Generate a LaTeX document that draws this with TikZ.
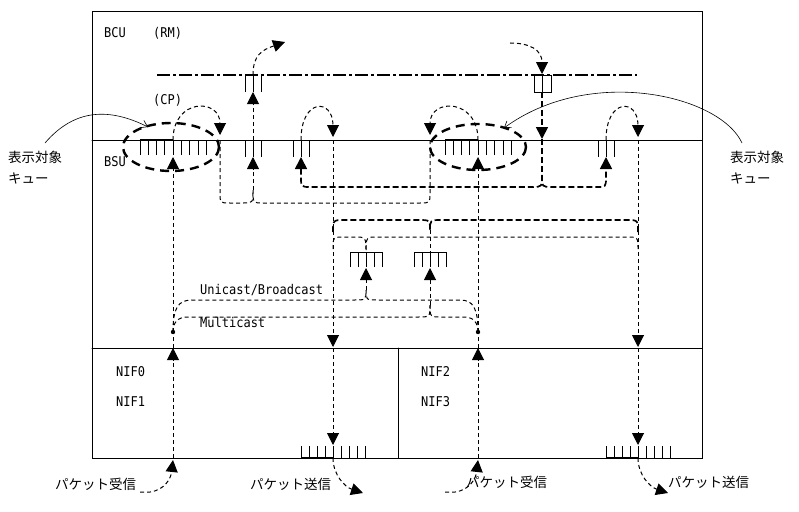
\documentclass[tikz,border=0pt]{standalone}
\usepackage{fontspec}
\setmainfont{DejaVu Sans Mono}
\newfontfamily\jp{Noto Sans CJK JP}
\usepackage{tikz,tkz-euclide}
\usetikzlibrary{arrows.meta}

\tikzset{
  flow/.style={dash pattern=on 4pt off 3pt,line width=1pt},
  bflow/.style={dash pattern=on 6pt off 3pt,line width=1.7pt},
  arr/.style={-{Triangle[length=12pt,width=12pt]}},
  barb/.style={line width=0.6pt,-{Straight Barb[length=6pt,width=8pt]}},
  qtick/.style={line width=1pt},
  selq/.style={dash pattern=on 9pt off 6pt,line width=2.4pt},
  lbl/.style={inner sep=0pt,anchor=west,yscale=1.12,font=\fontsize{12}{14}\selectfont},
  jlbl/.style={inner sep=0pt,anchor=west,font=\jp\fontsize{13.5}{15}\selectfont},
}

\begin{document}
\begin{tikzpicture}[x=1pt,y=-1pt]
				\useasboundingbox (0,0) rectangle (799,511);
				% frame
				\tkzDefPoints{92/12/F_1,702/458/F_2,92/140/L_1,702/140/L_2,92/348/L_3,702/348/L_4,398/348/L_5,398/458/L_6}
				\draw[line width=1pt] (F_1) rectangle (F_2);
				\tkzDrawSegments[line width=1pt](L_1,L_2 L_3,L_4 L_5,L_6)
				% columns
				\tkzDefPoints{140/492/W_1,173/460/A_0,173/458/A_1,173/348/A_2,173/332/D_1,173/157/A_3,173/140/A_4}
				\tkzDefPoints{445/492/W_2,478/460/B_0,478/458/B_1,478/348/B_2,478/332/D_2,478/157/B_3,478/140/B_4}
				\tkzDefPoints{333/137/C_1,333/140/C_2,333/347/C_3,333/348/C_4,333/445/C_5,333/458/C_6,363/493/C_7,333/232/C_8,333/249/C_9}
				\tkzDefPoints{638/137/E_1,638/140/E_2,638/347/E_3,638/348/E_4,638/445/E_5,638/458/E_6,668/493/E_7,638/232/E_8,638/249/E_9}
				\tkzDefPoints{253/190/G_1,253/157/G_2,253/140/G_3,253/92/G_4,253/75/G_5,285/42/G_6}
				\tkzDefPoints{301/157/H_1,301/140/H_2,606/157/K_1,606/140/K_2}
				\tkzDefPoints{510/43/M_0,542/74/M_1,542/92/M_2,542/139/M_3,542/175/M_4}
				\tkzDefPoints{220/135/P_1,220/140/P_2,430/135/P_3,430/140/P_4}
				\tkzDefPoints{366/268/U_1,366/252/U_2,366/290/U_3,430/268/V_1,430/252/V_2,430/305/V_3,430/230/V_4}
				\tkzDefPoints{171/147/O_1,478/147/O_2,157/75/R_1,637/75/R_2}
				\tkzDefPoints{45/143/S_1,148/127/S_2,742/143/S_3,504/128/S_4}
				% queues
				\foreach \i in {0,...,8} \draw[qtick] ({140+8.3*\i},140) -- ++(0,15);
				\foreach \i in {0,...,8} \draw[qtick] ({445+8.3*\i},140) -- ++(0,15);
				\draw[line width=1.8pt] (140,140) -- (A_4);
				\draw[line width=1.8pt] (445,140) -- (B_4);
				\foreach \x in {253,301,606} \foreach \d in {-8,0,8} \draw[qtick] ({\x+\d},140) -- ++(0,17);
				\foreach \d in {-8,0,8} \draw[qtick] ({253+\d},75) -- ++(0,17);
				\draw[qtick] (534,75) rectangle (551,92);
				\draw[qtick] (542,75) -- (M_2);
				\foreach \x in {366,430} {
					\draw[qtick] ({\x-16},252) -- ({\x+16},252);
					\foreach \d in {-16,-8,...,16} \draw[qtick] ({\x+\d},252) -- ++(0,15);
				}
				\foreach \x in {333,638} {
					\foreach \d in {-32,-24,...,32} \draw[qtick] ({\x+\d},458) -- ++(0,-12);
					\draw[line width=1.8pt] ({\x-32},458) -- (\x,458);
				}
				\draw[selq] (O_1) ellipse [x radius=48,y radius=24];
				\draw[selq] (O_2) ellipse [x radius=48,y radius=23];
				\draw[line width=2pt,dash pattern=on 13pt off 3pt on 3pt off 3pt] (R_1) -- (R_2);
				% receive side
				\draw[flow,arr] (W_1) -- (150,492) .. controls (165,490) and (171,478) .. (A_0);
				\draw[flow,arr] (A_1) -- (A_2);
				\draw[flow] (A_2) -- (D_1);
				\draw[flow,arr] (D_1) -- (A_3);
				\draw[flow,arr] (W_2) -- (455,492) .. controls (470,490) and (476,478) .. (B_0);
				\draw[flow,arr] (B_1) -- (B_2);
				\draw[flow] (B_2) -- (D_2);
				\draw[flow,arr] (D_2) -- (B_3);
				\fill (D_1) circle (2.2);
				\fill (D_2) circle (2.2);
				% unicast / multicast queues
				\draw[flow,arr] (U_3) -- (U_1);
				\draw[flow,arr] (V_3) -- (V_1);
				\draw[flow] (D_1) .. controls (173,308) and (178,300) .. (192,300) -- (354,300) .. controls (366,300) .. (U_3);
				\draw[flow] (D_2) .. controls (478,308) and (473,300) .. (460,300) -- (378,300) .. controls (366,300) .. (U_3);
				\draw[flow] (D_1) .. controls (173,322) and (178,317) .. (188,317) -- (418,317) .. controls (430,317) .. (V_3);
				\draw[flow] (D_2) .. controls (478,322) and (473,317) .. (464,317) -- (442,317) .. controls (430,317) .. (V_3);
				\draw[bflow] (C_8) .. controls (333,220) .. (345,220) -- (418,220) .. controls (430,220) .. (V_4);
				\draw[bflow] (E_8) .. controls (638,220) .. (626,220) -- (442,220) .. controls (430,220) .. (V_4);
				\draw[flow] (V_4) -- (V_2);
				\draw[flow] (C_9) .. controls (333,237) .. (345,237) -- (354,237) .. controls (366,237) .. (U_2);
				\draw[flow] (E_9) .. controls (638,237) .. (626,237) -- (378,237) .. controls (366,237) .. (U_2);
				% loops at BCU/BSU border
				\draw[flow,arr] (A_4) .. controls (173,98) and (220,98) .. (P_1);
				\draw[flow,arr] (B_4) .. controls (478,98) and (430,98) .. (P_3);
				\draw[flow,arr] (H_2) .. controls (301,98) and (333,98) .. (C_1);
				\draw[flow,arr] (K_2) .. controls (606,98) and (638,98) .. (E_1);
				% to RM
				\draw[flow] (P_2) -- (220,193) .. controls (220,203) .. (230,203) -- (243,203) .. controls (253,203) .. (G_1);
				\draw[flow] (P_4) -- (430,193) .. controls (430,203) .. (420,203) -- (263,203) .. controls (253,203) .. (G_1);
				\draw[flow,arr] (G_1) -- (G_2);
				\draw[flow,arr] (G_3) -- (G_4);
				\draw[flow,arr] (G_5) .. controls (253,55) and (262,50) .. (G_6);
				% from RM
				\draw[flow,arr] (M_0) .. controls (530,43) and (542,50) .. (M_1);
				\draw[bflow,arr] (M_2) -- (M_3);
				\draw[bflow] (M_3) -- (M_4);
				\draw[bflow,arr] (M_4) .. controls (542,187) .. (532,187) -- (311,187) .. controls (301,187) .. (301,177) -- (H_1);
				\draw[bflow,arr] (M_4) .. controls (542,187) .. (552,187) -- (596,187) .. controls (606,187) .. (606,177) -- (K_1);
				% send side
				\draw[flow,arr] (C_2) -- (C_3);
				\draw[flow,arr] (C_4) -- (C_5);
				\draw[flow,arr] (C_6) .. controls (333,475) and (345,487) .. (C_7);
				\draw[flow,arr] (E_2) -- (E_3);
				\draw[flow,arr] (E_4) -- (E_5);
				\draw[flow,arr] (E_6) .. controls (638,475) and (650,487) .. (E_7);
				% pointers
				\draw[barb] (S_1) .. controls (75,108) and (110,108) .. (S_2);
				\draw[barb] (S_3) .. controls (720,95) and (590,65) .. (S_4);
				% labels
				\node[lbl] (bcu) at (104,33) {BCU};
				\node[lbl] (rm) at (153,33) {(RM)};
				\node[lbl] (cp) at (153,100) {(CP)};
				\node[lbl] (bsu) at (104,162) {BSU};
				\node[lbl] (uni) at (200,290) {Unicast/Broadcast};
				\node[lbl] (multi) at (200,322) {Multicast};
				\node[lbl] (nif0) at (116,372) {NIF0};
				\node[lbl] (nif1) at (116,402) {NIF1};
				\node[lbl] (nif2) at (421,372) {NIF2};
				\node[lbl] (nif3) at (421,402) {NIF3};
				\node[jlbl] (selL) at (8,157) {表示対象};
				\node[jlbl] (selLb) at (8,178) {キュー};
				\node[jlbl] (selR) at (730,157) {表示対象};
				\node[jlbl] (selRb) at (730,178) {キュー};
				\node[jlbl] (rx0) at (55,484) {パケット受信};
				\node[jlbl] (tx1) at (250,484) {パケット送信};
				\node[jlbl] (rx2) at (466,482) {パケット受信};
				\node[jlbl] (tx3) at (668,482) {パケット送信};
\end{tikzpicture}
\end{document}
